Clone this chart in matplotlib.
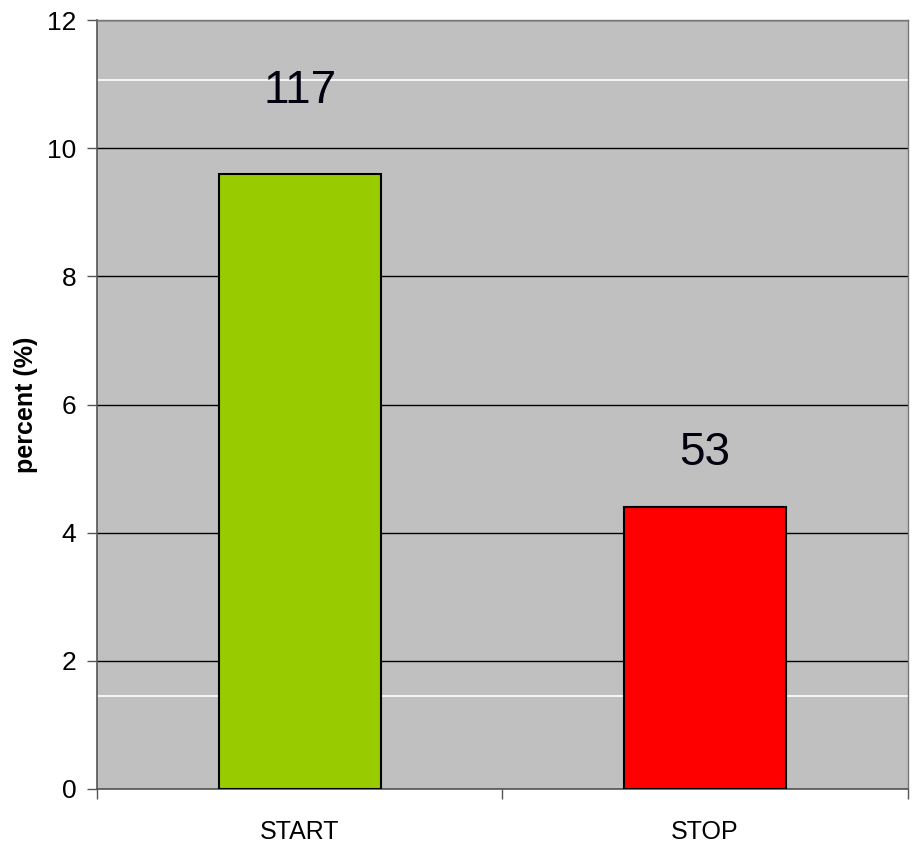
import matplotlib.pyplot as plt
from matplotlib.ticker import FixedLocator

categories = ['START', 'STOP']
percent = [9.6, 4.4]
counts = ['117', '53']
bar_colors = ['#99CC00', '#FF0000']
label_offsets = [1.3, 0.85]

font = ['Liberation Sans', 'DejaVu Sans']

fig = plt.figure(figsize=(9.15, 8.49), dpi=100)
ax = fig.add_axes([0.106, 0.0707, 0.886, 0.9057])
ax.set_facecolor('#C0C0C0')

x = list(range(len(categories)))
ax.bar(x, percent, width=0.4, color=bar_colors, edgecolor='black', linewidth=1.5, zorder=3)

# faint white streaks visible in the original plot area
for yv in [11.07, 1.45]:
    ax.axhline(yv, color='white', linewidth=1.2, zorder=1)

for xi, v, c, off in zip(x, percent, counts, label_offsets):
    ax.text(xi, v + off, c, ha='center', va='center', fontsize=33,
            color='#00000F', family=font, zorder=4)

ax.set_xlim(-0.5, 1.5)
ax.set_ylim(0, 12)
ax.set_yticks([0, 2, 4, 6, 8, 10, 12])
ax.yaxis.grid(True, color='black', linewidth=1, zorder=2)
ax.set_axisbelow(True)

ax.set_xticks(x)
ax.set_xticklabels(categories, family=font, fontsize=18)
ax.xaxis.set_minor_locator(FixedLocator([-0.5, 0.5, 1.5]))
ax.tick_params(axis='x', which='major', length=0, pad=22)
ax.tick_params(axis='x', which='minor', length=7, width=1, color='#555555', direction='out')
ax.tick_params(axis='y', length=7, width=1, color='#555555', direction='out', pad=8)
for lab in ax.get_yticklabels():
    lab.set_family(font)
    lab.set_fontsize(19)

for s in ['left', 'bottom']:
    ax.spines[s].set_color('#555555')
    ax.spines[s].set_linewidth(1.2)
for s in ['top', 'right']:
    ax.spines[s].set_color('#777777')
    ax.spines[s].set_linewidth(1)

ax.set_ylabel('percent (%)', fontsize=18, fontweight='bold',
              family=font, labelpad=6)

fig.savefig('out.png', dpi=100)
